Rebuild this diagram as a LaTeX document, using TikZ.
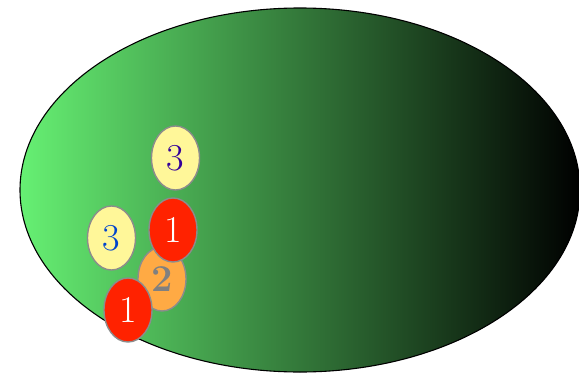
\documentclass[tikz,border=0pt]{standalone}
\usetikzlibrary{shapes.geometric}
\begin{document}
\begin{tikzpicture}[x=1pt,y=-1pt,
  ball/.style={draw=gray!90, line width=1.4pt, ellipse, minimum width=48pt, minimum height=64pt, inner sep=0pt, font=\fontsize{38}{38}\selectfont},
  yel/.style={ball, fill={rgb,255:red,255;green,247;blue,153}},
  redb/.style={ball, fill={rgb,255:red,255;green,34;blue,0}, text=white},
  orb/.style={ball, fill={rgb,255:red,255;green,170;blue,68}, text=gray, font=\bfseries\fontsize{38}{38}\selectfont}]
\useasboundingbox (0,0) rectangle (579,375);
\shade[left color={rgb,255:red,102;green,240;blue,115}, right color=black, draw=black, line width=1.1pt] (300,190) ellipse [x radius=280, y radius=182];
\node[yel, text={rgb,255:red,51;green,0;blue,153}] (t3) at (175.5,158) {3};
\node[yel, text={rgb,255:red,0;green,68;blue,204}] (l3) at (111.5,238) {3};
\node[orb] (o2) at (162,279) {2};
\node[redb] (r1a) at (173,230) {1};
\node[redb] (r1b) at (128,310) {1};
\end{tikzpicture}
\end{document}
